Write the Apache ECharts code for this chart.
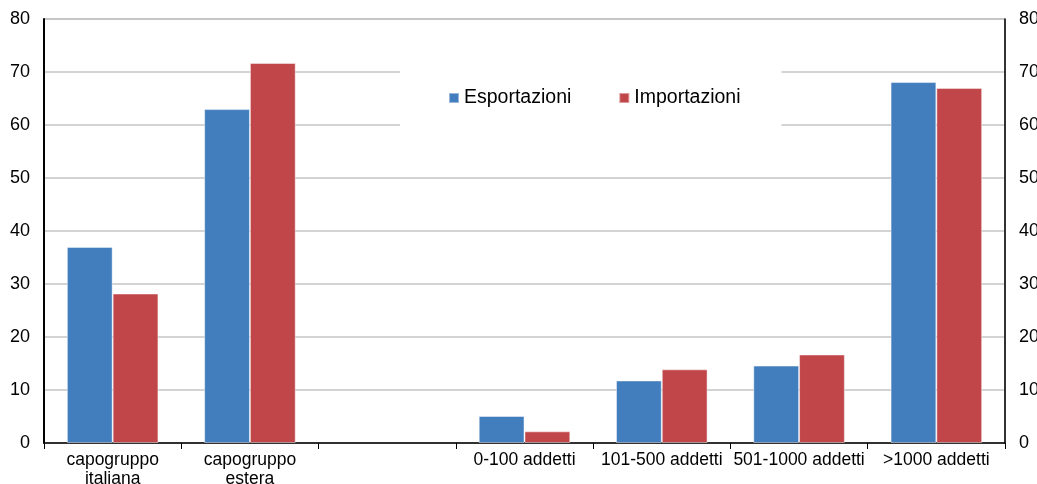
<!DOCTYPE html>
<html>
<head>
<meta charset="utf-8">
<script src="https://cdn.jsdelivr.net/npm/echarts@6/dist/echarts.min.js"></script>
<style>
  html, body { margin: 0; padding: 0; background: #fff; }
  #chart { width: 1037px; height: 484px; }
</style>
</head>
<body>
<div id="chart"></div>
<script>
// Categories (third slot is an empty spacer between the two groups)
const categories = ['capogruppo\nitaliana', 'capogruppo\nestera', '', '0-100 addetti', '101-500 addetti', '501-1000 addetti', '>1000 addetti'];
const seriesNames = ['Esportazioni', 'Importazioni'];
const esportazioni = [37.0, 63.0, '-', 5.1, 11.8, 14.6, 68.1];
const importazioni = [28.2, 71.7, '-', 2.2, 13.9, 16.7, 67.0];
const yTicks = { min: 0, max: 80, interval: 10 };

const FONT = 'Liberation Sans, Arial, sans-serif';
const chart = echarts.init(document.getElementById('chart'), null, { renderer: 'canvas' });

const yAxisBase = {
  type: 'value',
  min: yTicks.min,
  max: yTicks.max,
  interval: yTicks.interval,
  axisTick: { show: false },
  axisLabel: { color: '#000', fontSize: 18, fontFamily: FONT, margin: 14 }
};

chart.setOption({
  animation: false,
  backgroundColor: '#fff',
  grid: {
    left: 44, right: 32, top: 19, bottom: 41,
    outerBoundsMode: 'none',
    containLabel: false,
    show: true, borderColor: '#999', borderWidth: 1, backgroundColor: 'transparent'
  },
  legend: {
    data: seriesNames,
    left: 400, top: 60,
    padding: [28, 41, 27, 48],
    backgroundColor: '#fff',
    icon: 'rect',
    itemWidth: 10, itemHeight: 10,
    itemGap: 47,
    textStyle: { color: '#000', fontSize: 19.5, fontFamily: FONT }
  },
  xAxis: {
    type: 'category',
    data: categories,
    axisLine: { lineStyle: { color: '#000', width: 1.5 } },
    axisTick: { show: true, length: 6, lineStyle: { color: '#000' } },
    axisLabel: {
      color: '#000', fontSize: 17.5, fontFamily: FONT, margin: 8,
      lineHeight: 19, interval: 0
    },
    splitLine: { show: false }
  },
  yAxis: [
    Object.assign({}, yAxisBase, {
      position: 'left',
      axisLine: { show: true, lineStyle: { color: '#000', width: 2 } },
      splitLine: { show: true, lineStyle: { color: '#c4c4c4', width: 1.5 } }
    }),
    Object.assign({}, yAxisBase, {
      position: 'right',
      axisLine: { show: true, lineStyle: { color: '#000', width: 1.5 } },
      splitLine: { show: false }
    })
  ],
  series: [
    {
      name: seriesNames[0], type: 'bar', data: esportazioni,
      barGap: '0%', barCategoryGap: '33.3%',
      itemStyle: { color: '#427EBD', borderColor: 'rgba(255,255,255,0.45)', borderWidth: 1 }
    },
    {
      name: seriesNames[1], type: 'bar', data: importazioni,
      barGap: '0%', barCategoryGap: '33.3%',
      itemStyle: { color: '#C0464A', borderColor: 'rgba(255,255,255,0.45)', borderWidth: 1 }
    }
  ]
});
</script>
</body>
</html>
